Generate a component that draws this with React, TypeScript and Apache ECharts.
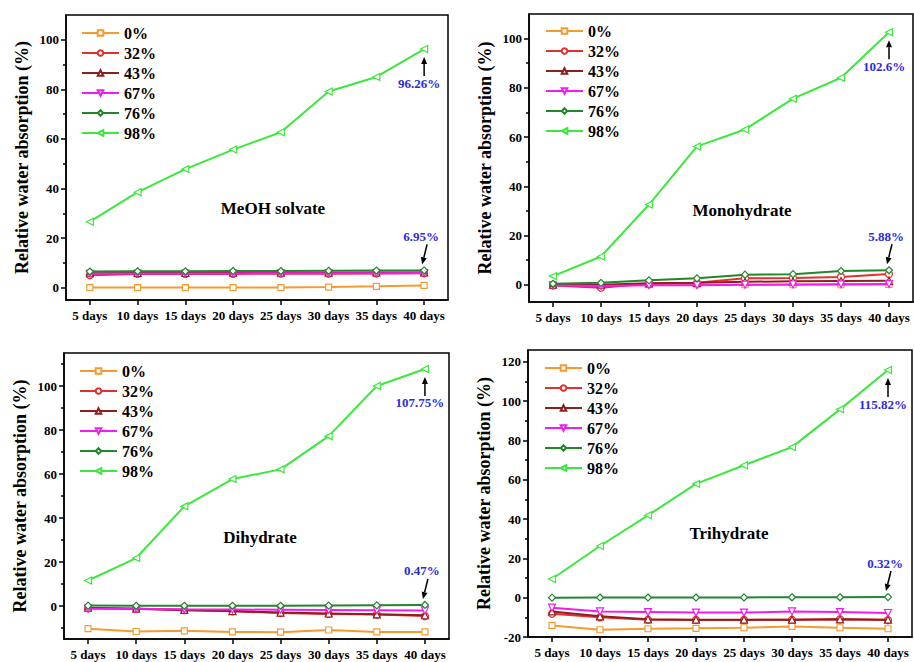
import React, { useEffect, useRef } from 'react';
import * as echarts from 'echarts';

const days = ['5 days', '10 days', '15 days', '20 days', '25 days', '30 days', '35 days', '40 days'];
const humidity = ['0%', '32%', '43%', '67%', '76%', '98%'];

// MeOH solvate
const meoh0 = [0, 0, 0, 0, 0, 0.2, 0.5, 0.9];
const meoh32 = [5.0, 5.5, 5.5, 5.5, 5.6, 5.6, 5.7, 5.8];
const meoh43 = [5.8, 5.9, 5.9, 6.0, 6.0, 6.0, 6.1, 6.1];
const meoh67 = [5.6, 5.7, 5.7, 5.7, 5.8, 5.8, 5.8, 5.9];
const meoh76 = [6.5, 6.6, 6.6, 6.7, 6.7, 6.8, 6.9, 6.95];
const meoh98 = [26.6, 38.5, 47.8, 55.7, 62.7, 79.1, 85.0, 96.26];

// Monohydrate
const mono0 = [0, -0.3, 0, 0, 0, 0, 0, 0.1];
const mono32 = [-0.3, -1.2, 0.5, 0.8, 2.6, 2.8, 3.2, 4.4];
const mono43 = [0, 0, 0.6, 0.8, 1.2, 1.4, 1.5, 1.6];
const mono67 = [-0.2, -0.5, -0.2, -0.2, 0, 0.1, 0.2, 0.3];
const mono76 = [0.4, 0.8, 1.8, 2.6, 4.1, 4.3, 5.6, 5.88];
const mono98 = [3.5, 11.5, 32.6, 56.2, 63.1, 75.6, 84.1, 102.6];

// Dihydrate
const di0 = [-10.3, -11.6, -11.3, -11.8, -11.9, -10.9, -11.8, -11.8];
const di32 = [-1.0, -1.3, -1.9, -2.4, -3.2, -3.6, -3.9, -4.6];
const di43 = [-0.8, -1.2, -1.8, -2.3, -3.0, -3.4, -3.8, -4.2];
const di67 = [-1.2, -1.3, -1.5, -1.6, -1.7, -1.8, -1.9, -2.0];
const di76 = [0.2, 0.1, 0.1, 0.1, 0.1, 0.2, 0.3, 0.47];
const di98 = [11.6, 21.8, 45.3, 57.7, 62.1, 77.2, 100, 107.75];

// Trihydrate
const tri0 = [-14.1, -16.3, -15.8, -15.6, -15.3, -14.6, -15.3, -15.8];
const tri32 = [-8.2, -10.0, -11.2, -11.3, -11.3, -11.2, -11.0, -11.4];
const tri43 = [-7.0, -9.5, -11.0, -11.2, -11.2, -11.2, -11.0, -11.2];
const tri67 = [-5.1, -7.0, -7.3, -7.6, -7.6, -7.0, -7.3, -7.8];
const tri76 = [0, 0.1, 0.1, 0.1, 0.15, 0.2, 0.2, 0.32];
const tri98 = [9.5, 26.3, 41.9, 57.9, 67.4, 76.6, 95.8, 115.82];

const panelNames = ['MeOH solvate', 'Monohydrate', 'Dihydrate', 'Trihydrate'];
const highLabels = ['96.26%', '102.6%', '107.75%', '115.82%'];
const lowLabels = ['6.95%', '5.88%', '0.47%', '0.32%'];

const yMins = [-5, -7, -15, -20];
const yMaxs = [110, 110, 115, 126];
const majorTicks = [
  [0, 20, 40, 60, 80, 100],
  [0, 20, 40, 60, 80, 100],
  [0, 20, 40, 60, 80, 100],
  [-20, 0, 20, 40, 60, 80, 100, 120],
];
const minorTicks = [
  [10, 30, 50, 70, 90],
  [10, 30, 50, 70, 90],
  [-10, 10, 30, 50, 70, 90, 110],
  [-10, 10, 30, 50, 70, 90, 110],
];

const panelData = [
  [meoh0, meoh32, meoh43, meoh67, meoh76, meoh98],
  [mono0, mono32, mono43, mono67, mono76, mono98],
  [di0, di32, di43, di67, di76, di98],
  [tri0, tri32, tri43, tri67, tri76, tri98],
];

const FONT = 'Liberation Serif, Times New Roman, serif';
const colors = ['#F79A2E', '#E3302E', '#8E1F1F', '#F21CF2', '#22862A', '#3BE83B'];
const symbols = [
  'rect',
  'circle',
  'triangle',
  'path://M0,0 L10,0 L5,9 Z',
  'diamond',
  'path://M0,5 L9,0 L9,10 Z',
];

const grids = [
  { left: 66, top: 15, width: 382, height: 285 },
  { left: 529, top: 14, width: 384, height: 288 },
  { left: 64, top: 353, width: 385, height: 286 },
  { left: 528, top: 350, width: 384, height: 287 },
];
const legendPos = [
  { left: 81, top: 25 },
  { left: 545, top: 23 },
  { left: 79, top: 363 },
  { left: 544, top: 360 },
];
const titlePos = [
  [273, 208],
  [742, 210],
  [260, 537],
  [729, 533],
];

function buildOption() {
  const xAxis: any[] = [];
  const yAxis: any[] = [];
  const series: any[] = [];
  const legend: any[] = [];
  grids.forEach((g, i) => {
    xAxis.push({
      type: 'category',
      gridIndex: i,
      data: days,
      boundaryGap: true,
      axisLine: { show: true, onZero: false, lineStyle: { color: '#000', width: 1.5 } },
      axisTick: { show: true, alignWithLabel: true, inside: false, length: 5, lineStyle: { color: '#000', width: 1.5 } },
      axisLabel: { color: '#000', fontFamily: FONT, fontWeight: 'bold', fontSize: 13, margin: 9, interval: 0 },
      splitLine: { show: false },
    });
    yAxis.push({
      type: 'value',
      gridIndex: i,
      min: yMins[i],
      max: yMaxs[i],
      position: 'left',
      name: 'Relative water absorption (%)',
      nameLocation: 'middle',
      nameRotate: 90,
      nameGap: 35,
      nameMoveOverlap: false,
      nameTextStyle: { color: '#000', fontFamily: FONT, fontWeight: 'bold', fontSize: 18 },
      axisLine: { show: true, lineStyle: { color: '#000', width: 1.5 } },
      axisTick: { show: true, inside: false, length: 5, customValues: majorTicks[i], lineStyle: { color: '#000', width: 1.5 } },
      axisLabel: { show: true, customValues: majorTicks[i], color: '#000', fontFamily: FONT, fontWeight: 'bold', fontSize: 13, margin: 7 },
      splitLine: { show: false },
    });
    yAxis.push({
      type: 'value',
      gridIndex: i,
      min: yMins[i],
      max: yMaxs[i],
      position: 'left',
      offset: 0,
      axisLine: { show: false },
      axisTick: { show: true, inside: false, length: 3, customValues: minorTicks[i], lineStyle: { color: '#000', width: 1.5 } },
      axisLabel: { show: false, customValues: minorTicks[i] },
      splitLine: { show: false },
    });
    humidity.forEach((h, j) => {
      series.push({
        type: 'line',
        name: h,
        xAxisIndex: i,
        yAxisIndex: i * 2,
        data: panelData[i][j],
        symbol: symbols[j],
        symbolSize: j === 0 ? 6 : 7,
        showAllSymbol: true,
        lineStyle: { color: colors[j], width: 2 },
        itemStyle: { color: '#fff', borderColor: colors[j], borderWidth: 1.2 },
        emphasis: { disabled: true },
        z: 2 + j,
      });
    });
    legend.push({
      data: humidity,
      orient: 'vertical',
      left: legendPos[i].left,
      top: legendPos[i].top,
      itemWidth: 37,
      itemHeight: 7,
      itemGap: 4,
      selectedMode: false,
      padding: 0,
      textStyle: { color: '#000', fontFamily: FONT, fontWeight: 'bold', fontSize: 16, lineHeight: 16 },
    });
  });
  return {
    animation: false,
    backgroundColor: '#fff',
    grid: grids.map((g) => ({
      ...g,
      show: true,
      borderColor: '#000',
      borderWidth: 1.5,
      backgroundColor: 'transparent',
      containLabel: false,
      outerBoundsMode: 'none',
    })),
    xAxis,
    yAxis,
    legend,
    series,
  };
}

function arrow(x1: number, y1: number, x2: number, y2: number) {
  const dx = x2 - x1;
  const dy = y2 - y1;
  const len = Math.sqrt(dx * dx + dy * dy);
  const ux = dx / len;
  const uy = dy / len;
  const hl = 7;
  const hw = 3;
  const bx = x2 - ux * hl;
  const by = y2 - uy * hl;
  return [
    { type: 'line', shape: { x1, y1, x2: bx, y2: by }, style: { stroke: '#000', lineWidth: 1.5 }, z: 100 },
    {
      type: 'polygon',
      shape: { points: [[x2, y2], [bx - uy * hw, by + ux * hw], [bx + uy * hw, by - ux * hw]] },
      style: { fill: '#000' },
      z: 100,
    },
  ];
}

export default function App() {
  const ref = useRef<HTMLDivElement>(null);
  useEffect(() => {
    const chart = echarts.init(ref.current!, null, { renderer: 'svg' });
    chart.setOption(buildOption() as any);
    const graphic: any[] = [];
    panelNames.forEach((name, i) => {
      graphic.push({
        type: 'text',
        x: titlePos[i][0],
        y: titlePos[i][1],
        z: 100,
        style: { text: name, font: `bold 17px ${FONT}`, fill: '#000', align: 'center', verticalAlign: 'middle' },
      });
      const hi = chart.convertToPixel({ seriesIndex: i * 6 + 5 } as any, [7, panelData[i][5][7]]) as number[];
      const lo = chart.convertToPixel({ seriesIndex: i * 6 + 4 } as any, [7, panelData[i][4][7]]) as number[];
      graphic.push(...arrow(hi[0], hi[1] + 27, hi[0], hi[1] + 8));
      graphic.push({
        type: 'text',
        x: hi[0] - 5,
        y: hi[1] + 34,
        z: 100,
        style: { text: highLabels[i], font: `bold 13px ${FONT}`, fill: '#2B2BE0', align: 'center', verticalAlign: 'middle' },
      });
      graphic.push(...arrow(lo[0] + 3, lo[1] - 26, lo[0] - 2, lo[1] - 6));
      graphic.push({
        type: 'text',
        x: lo[0] - 3,
        y: lo[1] - 34,
        z: 100,
        style: { text: lowLabels[i], font: `bold 13px ${FONT}`, fill: '#2B2BE0', align: 'center', verticalAlign: 'middle' },
      });
    });
    chart.setOption({ graphic });
    return () => chart.dispose();
  }, []);
  return (
    <div
      ref={ref}
      style={{ position: 'fixed', left: 0, top: 0, width: 914, height: 662, background: '#fff' }}
    />
  );
}
